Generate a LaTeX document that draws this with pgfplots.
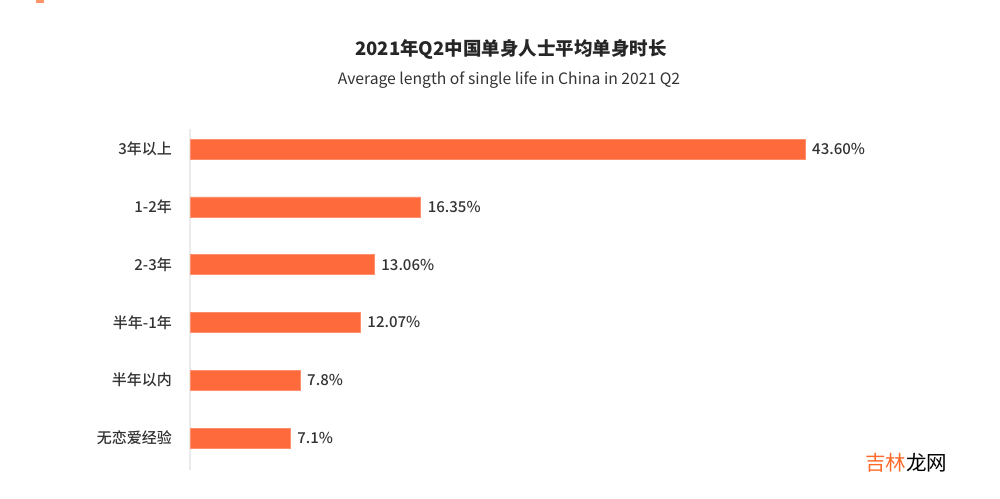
\documentclass[border=0pt]{standalone}
\usepackage{pgfplots}
\pgfplotsset{compat=1.18}
\usepackage{fontspec}
\setmainfont{Noto Sans CJK SC}
\newfontfamily\medium{Noto Sans CJK SC Medium}
\definecolor{barfill}{HTML}{FF6A3D}
\definecolor{txt}{HTML}{333333}
\definecolor{wm}{HTML}{FF6A2A}

\begin{document}
\begin{tikzpicture}
\useasboundingbox (0pt,0pt) rectangle (1000pt,498pt);
\begin{axis}[
  at={(190pt,60pt)}, anchor=origin,
  scale only axis, width=705.3pt, height=341pt,
  xbar, bar width=20pt,
  xmin=0, xmax=50, ymin=-0.55, ymax=5.35,
  axis x line=none, axis y line=left,
  axis line style={draw=black!8, line width=1.5pt, -},
  ytick={0,...,5},
  yticklabels={无恋爱经验,半年以内,半年-1年,2-3年,1-2年,3年以上},
  major tick length=0pt,
  y tick label style={font=\medium\fontsize{15}{15}\selectfont, text=txt, inner sep=0pt, xshift=-18pt},
  nodes near coords, point meta=explicit symbolic,
  nodes near coords style={anchor=west, inner sep=0pt, xshift=7pt,
    font=\medium\fontsize{15}{15}\selectfont, text=txt},
]
\addplot[fill=barfill, draw=barfill!75!white] coordinates {
  (7.1,0) [7.1\%]
  (7.8,1) [7.8\%]
  (12.07,2) [12.07\%]
  (13.06,3) [13.06\%]
  (16.35,4) [16.35\%]
  (43.60,5) [43.60\%]
};
\end{axis}
\fill[wm!70] (36pt,495pt) rectangle (44pt,498pt);
\node[text=black!85] at (511pt,448pt) {\bfseries\fontsize{18.5}{18.5}\selectfont 2021年Q2中国单身人士平均单身时长};
\node[text=txt] at (509pt,418pt) {\fontsize{15.7}{15.7}\selectfont Average length of single life in China in 2021 Q2};
\node[anchor=west, inner sep=0pt, text=black] at (865pt,35pt) {\fontsize{20.5}{20.5}\selectfont\textcolor{wm}{吉林}龙网};
\end{tikzpicture}
\end{document}
